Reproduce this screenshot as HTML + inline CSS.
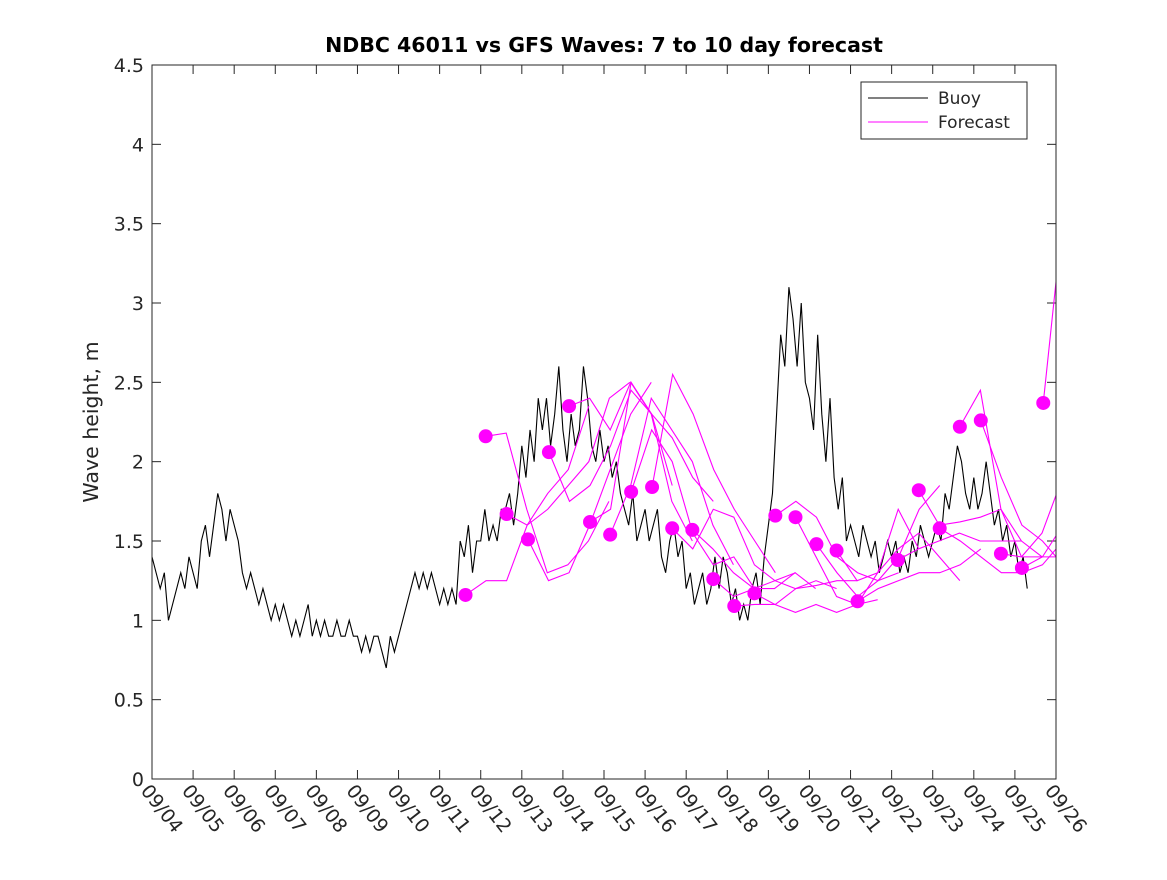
<!DOCTYPE html>
<html><head><meta charset="utf-8"><style>
body{margin:0;background:#fff;}
svg text{font-family:"DejaVu Sans","Liberation Sans",sans-serif;}
</style></head><body>
<svg id="chart" width="1167" height="875" viewBox="0 0 1167 875" xmlns="http://www.w3.org/2000/svg">
<rect width="1167" height="875" fill="#fff"/>
<defs><clipPath id="pc"><rect x="152" y="65" width="904" height="714"/></clipPath></defs>
<text x="604" y="52" text-anchor="middle" font-size="20.5" font-weight="bold">NDBC 46011 vs GFS Waves: 7 to 10 day forecast</text>
<text transform="translate(98,422) rotate(-90)" text-anchor="middle" font-size="20.5" fill="#262626">Wave height, m</text>
<g id="axes"></g>
<g id="series" clip-path="url(#pc)"></g>
<g id="dots"></g>
<rect x="152" y="65" width="904" height="714" fill="none" stroke="#262626" stroke-width="1"/>
<g>
<rect x="861" y="82" width="166" height="57" fill="#fff" stroke="#262626" stroke-width="1"/>
<line x1="868" y1="98" x2="928" y2="98" stroke="#000" stroke-width="1"/>
<text x="938" y="104" font-size="17" fill="#262626">Buoy</text>
<line x1="868" y1="122" x2="928" y2="122" stroke="#f0f" stroke-width="1"/>
<text x="938" y="128" font-size="17" fill="#262626">Forecast</text>
</g>
</svg>
<script>
const xLabels=["09/04","09/05","09/06","09/07","09/08","09/09","09/10","09/11","09/12","09/13","09/14","09/15","09/16","09/17","09/18","09/19","09/20","09/21","09/22","09/23","09/24","09/25","09/26"];
const yTicks=[0,0.5,1,1.5,2,2.5,3,3.5,4,4.5];
const yTickLabels=["0","0.5","1","1.5","2","2.5","3","3.5","4","4.5"];
const buoyStep=0.1;
const buoyValues=[
1.4,1.3,1.2,1.3,1.0,1.1,1.2,1.3,1.2,1.4,
1.3,1.2,1.5,1.6,1.4,1.6,1.8,1.7,1.5,1.7,
1.6,1.5,1.3,1.2,1.3,1.2,1.1,1.2,1.1,1.0,
1.1,1.0,1.1,1.0,0.9,1.0,0.9,1.0,1.1,0.9,
1.0,0.9,1.0,0.9,0.9,1.0,0.9,0.9,1.0,0.9,
0.9,0.8,0.9,0.8,0.9,0.9,0.8,0.7,0.9,0.8,
0.9,1.0,1.1,1.2,1.3,1.2,1.3,1.2,1.3,1.2,
1.1,1.2,1.1,1.2,1.1,1.5,1.4,1.6,1.3,1.5,
1.5,1.7,1.5,1.6,1.5,1.7,1.7,1.8,1.6,1.8,
2.1,1.9,2.2,2.0,2.4,2.2,2.4,2.1,2.3,2.6,
2.2,2.0,2.3,2.1,2.2,2.6,2.4,2.1,2.0,2.2,
2.0,2.1,1.9,2.0,1.8,1.7,1.6,1.8,1.5,1.6,
1.7,1.5,1.6,1.7,1.4,1.3,1.5,1.6,1.4,1.5,
1.2,1.3,1.1,1.2,1.3,1.1,1.2,1.4,1.2,1.4,
1.3,1.1,1.2,1.0,1.1,1.0,1.2,1.3,1.1,1.4,
1.6,1.8,2.3,2.8,2.6,3.1,2.9,2.6,3.0,2.5,
2.4,2.2,2.8,2.3,2.0,2.4,1.9,1.7,1.9,1.5,
1.6,1.5,1.4,1.6,1.5,1.4,1.5,1.3,1.4,1.5,
1.4,1.5,1.3,1.4,1.3,1.5,1.4,1.6,1.5,1.4,
1.5,1.6,1.5,1.8,1.7,1.9,2.1,2.0,1.8,1.7,
1.9,1.7,1.8,2.0,1.8,1.6,1.7,1.5,1.6,1.4,
1.5,1.3,1.4,1.2];
const forecastStarts=[7.63,8.12,8.63,9.15,9.66,10.15,10.66,11.15,11.66,12.17,12.66,13.15,13.66,14.17,14.66,15.17,15.66,16.17,16.66,17.17,18.15,18.66,19.17,19.66,20.17,20.66,21.17,21.69];
const forecastStep=0.5;
const forecastValues=[
[1.16,1.25,1.25,1.6,1.8,1.95,2.35],
[2.16,2.18,1.7,1.3,1.35,1.5,1.75],
[1.67,1.6,1.7,1.85,2.0,2.4,2.5],
[1.51,1.25,1.3,1.6,1.95,2.3,2.5],
[2.06,1.75,1.85,2.1,2.45,2.3,1.85],
[2.35,2.4,2.2,2.5,2.3,1.75,1.5],
[1.62,1.7,2.5,2.3,2.15,1.9,1.75],
[1.54,1.85,2.4,2.2,2.0,1.6,1.35],
[1.81,2.2,2.0,1.55,1.35,1.4,1.2],
[1.84,2.55,2.3,1.95,1.7,1.5,1.3],
[1.58,1.45,1.7,1.65,1.35,1.25,1.3],
[1.57,1.45,1.3,1.2,1.2,1.3,1.2],
[1.26,1.15,1.2,1.25,1.2,1.25,1.2],
[1.09,1.1,1.1,1.2,1.22,1.25,1.25],
[1.17,1.1,1.05,1.1,1.05,1.1,1.13],
[1.66,1.75,1.65,1.4,1.3,1.25,1.3],
[1.65,1.4,1.15,1.1,1.3,1.7,1.45],
[1.48,1.3,1.15,1.25,1.4,1.7,1.85],
[1.44,1.25,1.3,1.45,1.55,1.4,1.25],
[1.12,1.2,1.25,1.3,1.3,1.35,1.45],
[1.38,1.45,1.5,1.55,1.5,1.5,1.5],
[1.82,1.6,1.62,1.65,1.7,1.4,1.4],
[1.58,1.5,1.4,1.3,1.3,1.35,1.5],
[2.22,2.45,1.7,1.5,1.4,1.4,1.6],
[2.26,1.9,1.6,1.5,1.35,1.4,1.6],
[1.42,1.4,1.55,1.9,2.1],
[1.33,1.4,1.6,1.9],
[2.37,3.6]
];
const NS="http://www.w3.org/2000/svg";
const X0=152,X1=1056,Y0=779,Y1=65,DMAX=22,VMAX=4.5;
function xs(d){return X0+d*(X1-X0)/DMAX;}
function ys(v){return Y0-v*(Y0-Y1)/VMAX;}
function mk(t,a,p){const e=document.createElementNS(NS,t);for(const k in a)e.setAttribute(k,a[k]);p.appendChild(e);return e;}
const axes=document.getElementById('axes');
yTicks.forEach((v,i)=>{
 const y=ys(v);
 mk('line',{x1:X0,y1:y,x2:X0+9,y2:y,stroke:'#262626'},axes);
 mk('line',{x1:X1,y1:y,x2:X1-9,y2:y,stroke:'#262626'},axes);
 const t=mk('text',{x:X0-8,y:y+7,'text-anchor':'end','font-size':'19',fill:'#262626'},axes);
 
 
 t.textContent=yTickLabels[i];
});
xLabels.forEach((lab,i)=>{
 const x=xs(i);
 mk('line',{x1:x,y1:Y0,x2:x,y2:Y0-9,stroke:'#262626'},axes);
 mk('line',{x1:x,y1:Y1,x2:x,y2:Y1+9,stroke:'#262626'},axes);
 const t=mk('text',{transform:`translate(${x-12},${Y0+12}) rotate(52)`,'font-size':'19',fill:'#262626'},axes);
 
 
 t.textContent=lab;
});
const series=document.getElementById('series');
const pts=buoyValues.map((v,i)=>xs(i*buoyStep)+','+ys(v));
const bl=mk('polyline',{points:pts.join(' '),fill:'none',stroke:'#000','stroke-width':'1.1'},series);


const dots=document.getElementById('dots');
forecastValues.forEach((vals,k)=>{
 const s=forecastStarts[k];
 const p=vals.map((v,j)=>xs(s+j*forecastStep)+','+ys(v)).join(' ');
 const fl=mk('polyline',{points:p,fill:'none',stroke:'#f0f','stroke-width':'1.1'},series);
 
 
 const c=mk('circle',{cx:xs(s),cy:ys(vals[0]),r:7,fill:'#f0f'},dots);
 
 
});
</script>
</body></html>
